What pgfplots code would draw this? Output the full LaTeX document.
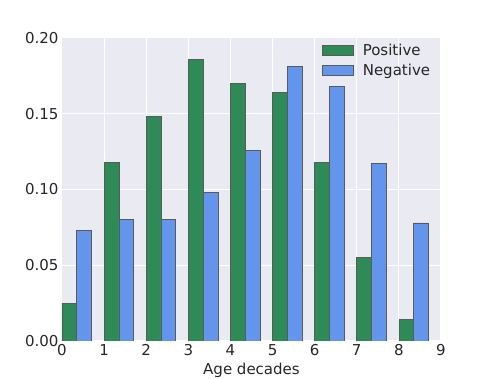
\documentclass[border=0pt]{standalone}
\usepackage{fontspec}
\setmainfont{DejaVu Sans}
\usepackage{pgfplots}
\pgfplotsset{compat=1.18}
\definecolor{bgc}{HTML}{EAEAF2}
\definecolor{posgreen}{HTML}{2E8B57}
\definecolor{negblue}{HTML}{6495ED}
\definecolor{txt}{HTML}{262626}
\definecolor{edge}{HTML}{5A5A5A}

\begin{document}
\begin{tikzpicture}
\path[use as bounding box] (-62pt,-38pt) rectangle (429pt,341pt);
\begin{axis}[at={(0,0)},anchor=south west,
 scale only axis,width=379pt,height=303pt,
 xmin=0,xmax=9,ymin=0,ymax=0.2,
 axis background/.style={fill=bgc},
 axis line style={draw=none},
 grid=major,grid style={white,line width=1pt},
 major tick length=0pt,
 xtick={0,1,2,3,4,5,6,7,8,9},
 ytick={0,0.05,0.10,0.15,0.20},
 yticklabel style={/pgf/number format/.cd,fixed,fixed zerofill,precision=2},
 /pgf/number format/assume math mode=true,
 tick label style={font=\fontsize{15}{17}\selectfont,text=txt},
 xlabel={Age decades},
 label style={font=\fontsize{15}{17}\selectfont,text=txt},
 ybar,bar width=0.35,
 legend style={at={(0.985,0.995)},anchor=north east,draw=none,fill=none,
  font=\fontsize{15}{17}\selectfont,text=txt,row sep=3pt,
  /tikz/every odd column/.style={column sep=7pt}},
 legend cell align=left,
 legend image code/.code={\draw[#1] (0pt,-5pt) rectangle (31pt,5pt);}]
\addplot[fill=posgreen,draw=edge,line width=0.6pt,bar shift=0.175]
 coordinates {(0,0.025) (1,0.118) (2,0.148) (3,0.186) (4,0.170) (5,0.164) (6,0.118) (7,0.055) (8,0.014)};
\addlegendentry{Positive}
\addplot[fill=negblue,draw=edge,line width=0.6pt,bar shift=0.525]
 coordinates {(0,0.073) (1,0.080) (2,0.080) (3,0.098) (4,0.126) (5,0.181) (6,0.168) (7,0.117) (8,0.078)};
\addlegendentry{Negative}
\end{axis}
\end{tikzpicture}
\end{document}
